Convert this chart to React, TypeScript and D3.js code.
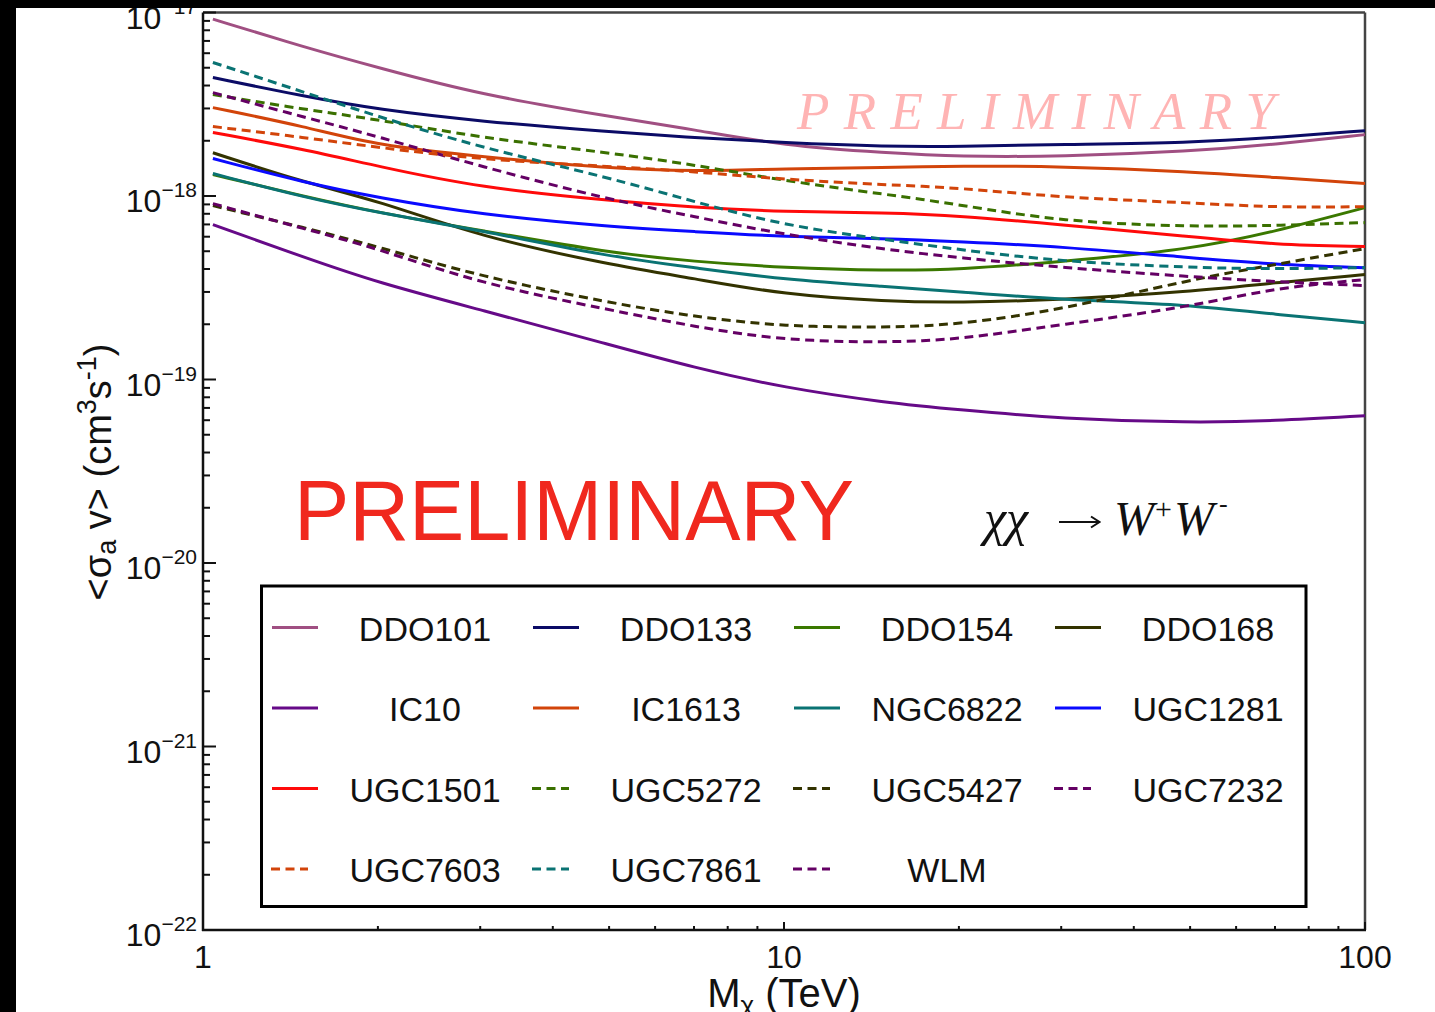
import React from "react";
import * as d3 from "d3";

// Dark-matter mass grid (TeV)
const masses = [1.04, 1.5, 2, 3, 5, 7, 10, 15, 20, 30, 50, 70, 100];

// 95% C.L. upper limits on <σv> (cm^3 s^-1), χχ → W+W-
const DDO101 = [9.2e-18, 6.45e-18, 5.01e-18, 3.57e-18, 2.71e-18, 2.3e-18, 1.88e-18, 1.72e-18, 1.64e-18, 1.64e-18, 1.75e-18, 1.91e-18, 2.16e-18];
const DDO133 = [4.42e-18, 3.48e-18, 2.96e-18, 2.55e-18, 2.24e-18, 2.08e-18, 1.95e-18, 1.86e-18, 1.86e-18, 1.91e-18, 1.95e-18, 2.08e-18, 2.27e-18];
const DDO154 = [1.31e-18, 9.92e-19, 8.12e-19, 6.5e-19, 4.91e-19, 4.39e-19, 4.07e-19, 3.92e-19, 3.97e-19, 4.39e-19, 5.1e-19, 6.4e-19, 8.64e-19];
const DDO168 = [1.72e-18, 1.18e-18, 9.44e-19, 6.0e-19, 4.23e-19, 3.55e-19, 2.9e-19, 2.66e-19, 2.62e-19, 2.72e-19, 3.01e-19, 3.37e-19, 3.73e-19];
const IC10 = [6.98e-19, 4.61e-19, 3.37e-19, 2.4e-19, 1.55e-19, 1.16e-19, 9.02e-20, 7.47e-20, 6.84e-20, 6.11e-20, 5.81e-20, 5.95e-20, 6.35e-20];
const IC1613 = [3.03e-18, 2.39e-18, 1.88e-18, 1.64e-18, 1.41e-18, 1.36e-18, 1.41e-18, 1.43e-18, 1.46e-18, 1.45e-18, 1.36e-18, 1.26e-18, 1.17e-18];
const NGC6822 = [1.325e-18, 9.8e-19, 8.12e-19, 6.5e-19, 4.67e-19, 4.07e-19, 3.5e-19, 3.21e-19, 3.01e-19, 2.72e-19, 2.56e-19, 2.26e-19, 2.04e-19];
const UGC1281 = [1.6e-18, 1.18e-18, 9.8e-19, 7.92e-19, 6.8e-19, 6.4e-19, 6.0e-19, 5.86e-19, 5.64e-19, 5.3e-19, 4.61e-19, 4.23e-19, 4.07e-19];
const UGC1501 = [2.22e-18, 1.79e-18, 1.45e-18, 1.11e-18, 9.44e-19, 8.65e-19, 8.22e-19, 8.1e-19, 7.82e-19, 6.98e-19, 6.0e-19, 5.43e-19, 5.3e-19];
const UGC5272 = [3.57e-18, 2.96e-18, 2.61e-18, 2.08e-18, 1.72e-18, 1.48e-18, 1.21e-18, 1.02e-18, 8.98e-19, 7.25e-19, 6.8e-19, 6.9e-19, 7.16e-19];
const UGC5427 = [8.86e-19, 6.7e-19, 5.3e-19, 3.64e-19, 2.62e-19, 2.2e-19, 1.94e-19, 1.92e-19, 1.99e-19, 2.4e-19, 3.5e-19, 4.23e-19, 5.17e-19];
const UGC7232 = [3.66e-18, 2.68e-18, 2.11e-18, 1.45e-18, 9.56e-19, 7.72e-19, 6.16e-19, 5.1e-19, 4.61e-19, 4.07e-19, 3.63e-19, 3.41e-19, 3.25e-19];
const UGC7603 = [2.39e-18, 2.08e-18, 1.84e-18, 1.58e-18, 1.45e-18, 1.36e-18, 1.23e-18, 1.15e-18, 1.11e-18, 9.8e-19, 9.2e-19, 8.65e-19, 8.75e-19];
const UGC7861 = [5.34e-18, 3.66e-18, 2.71e-18, 1.84e-18, 1.26e-18, 9.32e-19, 6.9e-19, 5.78e-19, 5.1e-19, 4.39e-19, 4.07e-19, 4.0e-19, 4.07e-19];
const WLM = [9.09e-19, 6.6e-19, 5.17e-19, 3.33e-19, 2.4e-19, 1.94e-19, 1.63e-19, 1.59e-19, 1.65e-19, 1.99e-19, 2.49e-19, 3.16e-19, 3.5e-19];

const seriesNames = ["DDO101", "DDO133", "DDO154", "DDO168", "IC10", "IC1613", "NGC6822", "UGC1281", "UGC1501", "UGC5272", "UGC5427", "UGC7232", "UGC7603", "UGC7861", "WLM"];
const seriesValues = [DDO101, DDO133, DDO154, DDO168, IC10, IC1613, NGC6822, UGC1281, UGC1501, UGC5272, UGC5427, UGC7232, UGC7603, UGC7861, WLM];
const seriesColors = ["#a04f82", "#0b0b66", "#3a7800", "#333300", "#660a88", "#d2440a", "#0a7373", "#0a0aff", "#ff0a0a", "#3a7000", "#333300", "#640064", "#d2440a", "#0a7373", "#640064"];
const seriesDashed = [false, false, false, false, false, false, false, false, false, true, true, true, true, true, true];

const yTickExponents = [-22, -21, -20, -19, -18, -17];
const xTickLabels = ["1", "10", "100"];
const xTickValues = [1, 10, 100];

const W = 1435;
const H = 1012;
const sans = "'Liberation Sans', Arial, Helvetica, sans-serif";
const serif = "'Liberation Serif', 'Times New Roman', serif";
const DASH = "9,5.5";

export default function App() {
  const left = 203, right = 1365, top = 12.5, bottom = 930;
  const x = d3.scaleLog().domain([1, 100]).range([left, right]);
  const y = d3.scaleLog().domain([1e-22, 1e-17]).range([bottom, top]);

  const line = d3
    .line<number>()
    .x((_, i) => x(masses[i]))
    .y((d) => y(d))
    .curve(d3.curveBasis);

  // minor ticks on both log axes
  const yMinor: number[] = [];
  for (let e = -22; e < -17; e++) for (let k = 2; k <= 9; k++) yMinor.push(k * Math.pow(10, e));
  const xMinor: number[] = [];
  for (let e = 0; e < 2; e++) for (let k = 2; k <= 9; k++) xMinor.push(k * Math.pow(10, e));

  // legend layout
  const lg = { x0: 261.5, y0: 586, x1: 1306, y1: 906.5 };
  const colW = 261;
  const rowH = 80.5;
  const rowC0 = 627.5;

  return (
    <svg width={W} height={H} style={{ position: "absolute", left: 0, top: 0 }} fontFamily={sans}>
      <rect x={0} y={0} width={W} height={H} fill="#ffffff" />

      {/* frame */}
      <line x1={left} y1={top} x2={right} y2={top} stroke="#444" strokeWidth={2.5} />
      <line x1={right} y1={top} x2={right} y2={bottom} stroke="#444" strokeWidth={2.5} />
      <line x1={left} y1={top} x2={left} y2={bottom + 1} stroke="#111" strokeWidth={2.5} />
      <line x1={left - 1} y1={bottom} x2={right + 1} y2={bottom} stroke="#111" strokeWidth={2.5} />

      {/* y ticks */}
      {yTickExponents.map((e) => (
        <line key={"ym" + e} x1={left} x2={left + 13} y1={y(Math.pow(10, e))} y2={y(Math.pow(10, e))} stroke="#111" strokeWidth={2} />
      ))}
      {yMinor.map((v, i) => (
        <line key={"yn" + i} x1={left} x2={left + 7} y1={y(v)} y2={y(v)} stroke="#111" strokeWidth={2} />
      ))}
      {/* x ticks */}
      {xTickValues.map((v) => (
        <line key={"xm" + v} x1={x(v)} x2={x(v)} y1={bottom} y2={bottom - 8} stroke="#111" strokeWidth={2} />
      ))}
      {xMinor.map((v, i) => (
        <line key={"xn" + i} x1={x(v)} x2={x(v)} y1={bottom} y2={bottom - 4} stroke="#111" strokeWidth={2} />
      ))}

      {/* y tick labels */}
      {yTickExponents.map((e) => (
        <text key={"yl" + e} x={197} y={y(Math.pow(10, e)) + 16} textAnchor="end" fill="#111">
          <tspan fontSize={32}>10</tspan>
          <tspan fontSize={21} dy={-15}>{"\u2212" + Math.abs(e)}</tspan>
        </text>
      ))}
      {/* x tick labels */}
      {xTickValues.map((v, i) => (
        <text key={"xl" + v} x={x(v)} y={968} textAnchor="middle" fontSize={32} fill="#111">
          {xTickLabels[i]}
        </text>
      ))}

      {/* axis titles */}
      <text x={784} y={1007} textAnchor="middle" fontSize={40} fill="#111">
        M<tspan fontSize={26} dy={7}>χ</tspan>
        <tspan dy={-7}> (TeV)</tspan>
      </text>
      <text transform="translate(111,472) rotate(-90)" textAnchor="middle" fontSize={38} fill="#111">
        {"<σ"}
        <tspan fontSize={27} dy={5}>a</tspan>
        <tspan dy={-5}>{" v> (cm"}</tspan>
        <tspan fontSize={27} dy={-15}>3</tspan>
        <tspan dy={15}>s</tspan>
        <tspan fontSize={27} dy={-15}>-1</tspan>
        <tspan dy={15}>)</tspan>
      </text>

      {/* curves */}
      {seriesValues.map((vals, i) => (
        <path
          key={seriesNames[i]}
          d={line(vals) || ""}
          fill="none"
          stroke={seriesColors[i]}
          strokeWidth={3}
          strokeDasharray={seriesDashed[i] ? DASH : undefined}
        />
      ))}

      {/* watermark */}
      <text x={797} y={129} fontFamily={serif} fontStyle="italic" fontSize={53} fill="#ffb4b4" textLength={478} lengthAdjust="spacing">
        PRELIMINARY
      </text>

      {/* big label */}
      <text x={294} y={540} fontSize={85} fill="#f0281e" textLength={560} lengthAdjust="spacingAndGlyphs">
        PRELIMINARY
      </text>

      {/* channel */}
      <text x={984} y={535} fontFamily={serif} fontStyle="italic" fontSize={50} fill="#111">χχ</text>
      <path d="M1059,522 H1099 M1091,516.5 L1099.5,522 L1091,527.5" fill="none" stroke="#111" strokeWidth={2} />
      <text x={1114} y={535} fontFamily={serif} fontStyle="italic" fontSize={48} fill="#111">W</text>
      <text x={1155} y={519} fontFamily={serif} fontSize={30} fill="#111">+</text>
      <text x={1174} y={535} fontFamily={serif} fontStyle="italic" fontSize={48} fill="#111">W</text>
      <text x={1219} y={512} fontFamily={serif} fontSize={26} fill="#111">-</text>

      {/* legend */}
      <rect x={lg.x0} y={lg.y0} width={lg.x1 - lg.x0} height={lg.y1 - lg.y0} fill="#ffffff" stroke="#000" strokeWidth={3} />
      {seriesNames.map((name, i) => {
        const col = i % 4;
        const row = Math.floor(i / 4);
        const cy = rowC0 + row * rowH;
        const lx = 272 + col * colW;
        return (
          <g key={"lg" + name}>
            <line
              x1={seriesDashed[i] ? lx - 1 : lx}
              x2={seriesDashed[i] ? lx + 36 : lx + 46}
              y1={cy}
              y2={cy}
              stroke={seriesColors[i]}
              strokeWidth={3}
              strokeDasharray={seriesDashed[i] ? DASH : undefined}
            />
            <text x={425 + col * colW} y={cy + 13} textAnchor="middle" fontSize={34} fill="#111">
              {name}
            </text>
          </g>
        );
      })}

      {/* outer black border */}
      <rect x={0} y={0} width={W} height={8} fill="#000" />
      <rect x={0} y={0} width={16} height={H} fill="#000" />
    </svg>
  );
}
